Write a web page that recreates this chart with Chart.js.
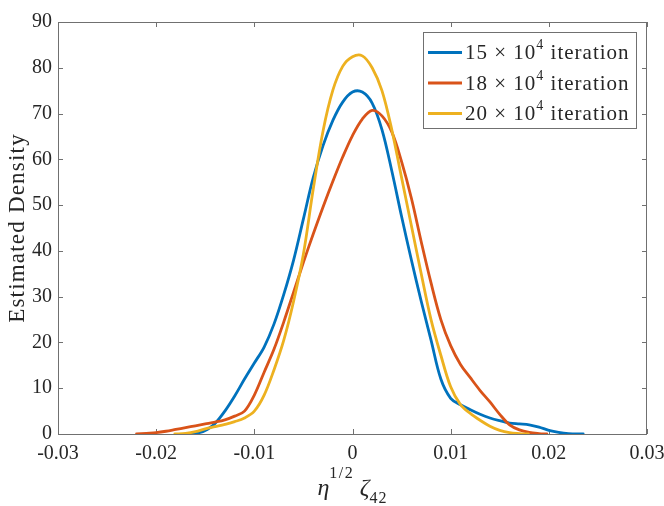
<!DOCTYPE html>
<html>
<head>
<meta charset="utf-8">
<script src="https://cdn.jsdelivr.net/npm/chart.js@4.4.0/dist/chart.umd.min.js"></script>
<style>
  html, body { margin: 0; padding: 0; background: #fff; }
  #wrap { width: 664px; height: 506px; position: relative; }
</style>
</head>
<body>
<div id="wrap"><canvas id="densityChart"></canvas></div>
<script>
// axis ticks
const xTicks = [-0.03, -0.02, -0.01, 0, 0.01, 0.02, 0.03];
const xTickLabels = ['-0.03', '-0.02', '-0.01', '0', '0.01', '0.02', '0.03'];
const yTicks = [0, 10, 20, 30, 40, 50, 60, 70, 80, 90];

// legend: N x 10^4 iteration
const iterCounts = ['15', '18', '20'];

// 15 x 10^4 iteration (blue)
const blueX = [-0.0168, -0.0156, -0.0148, -0.014, -0.013, -0.012, -0.011, -0.010, -0.009, -0.008,
  -0.007, -0.006, -0.005, -0.004, -0.003, -0.002, -0.001, 0, 0.001, 0.002,
  0.003, 0.004, 0.005, 0.006, 0.007, 0.008, 0.009, 0.010, 0.011, 0.012,
  0.013, 0.014, 0.015, 0.016, 0.017, 0.018, 0.019, 0.020, 0.021, 0.022, 0.0235];
const blueY = [0, 0.3, 1.0, 2.3, 5.0, 8.3, 12.0, 15.5, 19.0, 24.0,
  30.5, 38.0, 47.0, 56.0, 63.0, 68.5, 72.5, 74.7, 74.7, 72.3,
  66.5, 57.5, 47.5, 38.0, 29.0, 20.5, 12.0, 7.8, 6.4, 5.3,
  4.3, 3.5, 2.9, 2.4, 2.2, 2.0, 1.5, 0.8, 0.35, 0.1, 0];

// 18 x 10^4 iteration (red)
const redX = [-0.022, -0.021, -0.020, -0.019, -0.018, -0.017, -0.016, -0.015, -0.014, -0.013,
  -0.012, -0.011, -0.010, -0.009, -0.008, -0.007, -0.006, -0.005, -0.004, -0.003,
  -0.002, -0.001, 0, 0.001, 0.002, 0.003, 0.004, 0.005, 0.006, 0.007,
  0.008, 0.009, 0.010, 0.011, 0.012, 0.013, 0.014, 0.015, 0.016, 0.017,
  0.018, 0.019, 0.0198];
const redY = [0, 0.15, 0.3, 0.6, 1.0, 1.4, 1.8, 2.2, 2.6, 3.1,
  3.9, 5.0, 8.5, 13.5, 18.5, 24.5, 31.0, 37.5, 43.7, 49.6,
  55.2, 60.5, 65.2, 68.8, 70.7, 69.5, 66.0, 59.5, 51.5, 42.0,
  33.0, 25.0, 19.3, 15.2, 12.3, 9.5, 7.0, 4.3, 2.0, 0.9,
  0.35, 0.1, 0];

// 20 x 10^4 iteration (yellow)
const yellowX = [-0.0181, -0.017, -0.016, -0.015, -0.014, -0.013, -0.012, -0.011, -0.010, -0.009,
  -0.008, -0.007, -0.006, -0.005, -0.004, -0.003, -0.002, -0.001, 0, 0.001,
  0.002, 0.003, 0.004, 0.005, 0.006, 0.007, 0.008, 0.009, 0.010, 0.011,
  0.012, 0.013, 0.014, 0.015, 0.016, 0.017, 0.0179];
const yellowY = [0, 0.15, 0.5, 1.1, 1.6, 2.1, 2.7, 3.5, 5.0, 8.5,
  14.0, 20.5, 29.0, 39.3, 53.5, 66.2, 75.1, 80.3, 82.4, 82.6,
  80.0, 75.0, 66.5, 56.0, 45.5, 35.0, 25.0, 17.2, 10.3, 6.4,
  4.5, 3.0, 1.7, 0.8, 0.3, 0.1, 0];

const FONT = '"Liberation Serif", "Times New Roman", serif';
const textColor = '#262626';
const axisColor = '#707070';
const seriesColors = ['#0072BD', '#D95319', '#EDB120'];

const toPoints = (xs, ys) => xs.map((x, i) => ({ x: x, y: ys[i] }));

// box, inward ticks, axis titles, legend
const matlabAxes = {
    id: 'matlabAxes',
    beforeDatasetsDraw(chart) {
        const { ctx, chartArea: a, scales: { x, y } } = chart;
        const tl = 5;
        ctx.save();
        ctx.strokeStyle = axisColor;
        ctx.lineWidth = 1;
        ctx.strokeRect(a.left + 0.5, a.top + 0.5, a.right - a.left - 1, a.bottom - a.top);
        ctx.beginPath();
        xTicks.forEach(v => {
            const px = Math.round(x.getPixelForValue(v)) + 0.5;
            ctx.moveTo(px, a.bottom); ctx.lineTo(px, a.bottom - tl);
            ctx.moveTo(px, a.top); ctx.lineTo(px, a.top + tl);
        });
        yTicks.forEach(v => {
            const py = Math.round(y.getPixelForValue(v)) + 0.5;
            ctx.moveTo(a.left, py); ctx.lineTo(a.left + tl, py);
            ctx.moveTo(a.right, py); ctx.lineTo(a.right - tl, py);
        });
        ctx.stroke();
        ctx.restore();
    },
    afterDraw(chart) {
        const { ctx, chartArea: a } = chart;
        ctx.save();
        ctx.fillStyle = textColor;

        // y title
        ctx.save();
        ctx.translate(24, (a.top + a.bottom) / 2);
        ctx.rotate(-Math.PI / 2);
        ctx.font = '23px ' + FONT;
        ctx.letterSpacing = '1.2px';
        ctx.textAlign = 'center';
        ctx.textBaseline = 'alphabetic';
        ctx.fillText('Estimated Density', 0, 0);
        ctx.restore();

        // x title: eta^{1/2} zeta_{42}
        const runs = [
            { t: '\u03B7', f: 'italic 24px ' + FONT, dy: 0 },
            { t: '1/2', f: '16px ' + FONT, dy: -17, ls: '1.5px' },
            { t: ' ', f: '22px ' + FONT, dy: 0 },
            { t: '\u03B6', f: 'italic 24px ' + FONT, dy: 0 },
            { t: '42', f: '16px ' + FONT, dy: 8, ls: '1px' }
        ];
        ctx.textAlign = 'left';
        ctx.textBaseline = 'alphabetic';
        let total = 0;
        runs.forEach(r => {
            ctx.font = r.f;
            ctx.letterSpacing = r.ls || '0px';
            r.w = ctx.measureText(r.t).width;
            total += r.w;
        });
        let cx = (a.left + a.right) / 2 - total / 2;
        runs.forEach(r => {
            ctx.font = r.f;
            ctx.letterSpacing = r.ls || '0px';
            ctx.fillText(r.t, cx, 495 + r.dy);
            cx += r.w;
        });

        // legend
        const bw = 213, bh = 96;
        const bx = a.right - 11 - bw, by = a.top + 10;
        ctx.fillStyle = '#fff';
        ctx.fillRect(bx, by, bw, bh);
        ctx.strokeStyle = axisColor;
        ctx.lineWidth = 1;
        ctx.strokeRect(bx + 0.5, by + 0.5, bw, bh);
        chart.data.datasets.forEach((ds, i) => {
            const ry = by + 20.5 + i * 30.5;
            ctx.strokeStyle = ds.borderColor;
            ctx.lineWidth = 2.8;
            ctx.beginPath();
            ctx.moveTo(bx + 5, ry);
            ctx.lineTo(bx + 39, ry);
            ctx.stroke();
            ctx.fillStyle = textColor;
            ctx.textBaseline = 'middle';
            let tx = bx + 42;
            ctx.letterSpacing = '1px';
            ctx.font = '21px ' + FONT;
            const p1 = iterCounts[i] + ' \u00D7 10';
            ctx.fillText(p1, tx, ry + 1);
            tx += ctx.measureText(p1).width;
            ctx.font = '14px ' + FONT;
            ctx.fillText('4', tx, ry - 7);
            tx += ctx.measureText('4').width;
            ctx.font = '21px ' + FONT;
            ctx.fillText(' iteration', tx, ry + 1);
        });
        ctx.restore();
    }
};

const ctxDensity = document.getElementById('densityChart').getContext('2d');
new Chart(ctxDensity, {
    type: 'line',
    data: {
        datasets: [
            { label: iterCounts[0] + ' \u00D7 10^4 iteration', data: toPoints(blueX, blueY), borderColor: seriesColors[0], order: 2 },
            { label: iterCounts[1] + ' \u00D7 10^4 iteration', data: toPoints(redX, redY), borderColor: seriesColors[1], order: 1 },
            { label: iterCounts[2] + ' \u00D7 10^4 iteration', data: toPoints(yellowX, yellowY), borderColor: seriesColors[2], order: 0 }
        ]
    },
    options: {
        responsive: true,
        maintainAspectRatio: false,
        animation: false,
        layout: { padding: { top: 22, right: 17, left: 0, bottom: 0 } },
        elements: {
            line: { borderWidth: 2.8, tension: 0.35, fill: false, borderJoinStyle: 'round', borderCapStyle: 'round' },
            point: { radius: 0, hoverRadius: 0 }
        },
        plugins: {
            legend: { display: false },
            tooltip: { enabled: false }
        },
        scales: {
            x: {
                type: 'linear',
                min: -0.03,
                max: 0.03,
                grid: { display: false, drawTicks: false },
                border: { display: false },
                afterBuildTicks: s => { s.ticks = xTicks.map(v => ({ value: v })); },
                ticks: {
                    callback: (v, i) => xTickLabels[i],
                    font: { family: FONT, size: 20 },
                    color: textColor,
                    padding: 8,
                    maxRotation: 0,
                    autoSkip: false
                },
                afterFit: s => { s.height = 72; s.paddingLeft = 0; s.paddingRight = 0; }
            },
            y: {
                min: 0,
                max: 90,
                grid: { display: false, drawTicks: false },
                border: { display: false },
                afterBuildTicks: s => { s.ticks = yTicks.map(v => ({ value: v })); },
                ticks: {
                    callback: v => String(v),
                    font: { family: FONT, size: 20 },
                    color: textColor,
                    padding: 6,
                    autoSkip: false
                },
                afterFit: s => { s.width = 58; s.paddingTop = 0; s.paddingBottom = 0; }
            }
        }
    },
    plugins: [matlabAxes]
});
</script>
</body>
</html>
